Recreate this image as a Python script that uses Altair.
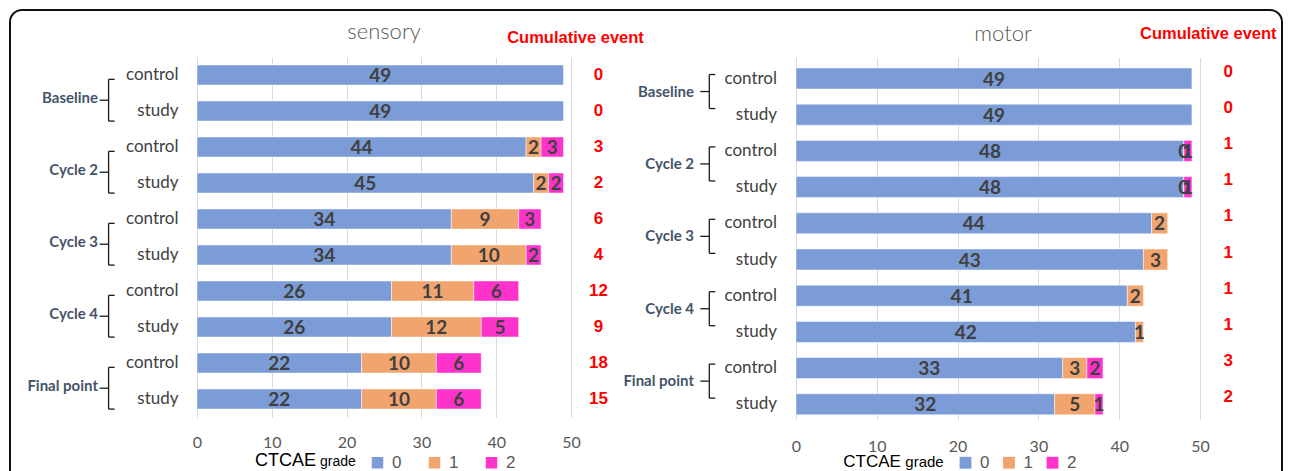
import altair as alt
import pandas as pd

# ---------------- data ----------------
groups = ["Baseline", "Cycle 2", "Cycle 3", "Cycle 4", "Final point"]
arms = ["control", "study"]
grades = [0, 1, 2]

sensory_g0 = [49, 49, 44, 45, 34, 34, 26, 26, 22, 22]
sensory_g1 = [None, None, 2, 2, 9, 10, 11, 12, 10, 10]
sensory_g2 = [None, None, 3, 2, 3, 2, 6, 5, 6, 6]
sensory_cum = [0, 0, 3, 2, 6, 4, 12, 9, 18, 15]

motor_g0 = [49, 49, 48, 48, 44, 43, 41, 42, 33, 32]
motor_g1 = [None, None, 0, 0, 2, 3, 2, 1, 3, 5]
motor_g2 = [None, None, 1, 1, None, None, None, None, 2, 1]
motor_cum = [0, 0, 1, 1, 1, 1, 1, 1, 3, 2]

x_ticks = [0, 10, 20, 30, 40, 50]
grade_colors = ["#7b9cd6", "#f2a46e", "#ff33cc"]
header_text = "Cumulative event"
legend_title = ["CTCAE", "grade"]


def bars_df(g0, g1, g2):
    rows = []
    for i in range(len(g0)):
        for grade, vals in zip(grades, (g0, g1, g2)):
            v = vals[i]
            if v is None:
                continue
            rows.append({"row": i, "grade": grade, "value": v})
    return pd.DataFrame(rows)


def one(text):
    return pd.DataFrame({"t": [text]})


def panel(title, g0, g1, g2, cum, lay, border=False):
    yscale = alt.Scale(domain=[-0.5, 9.5], range=lay["yrange"], nice=False,
                       zero=False, padding=0)
    xscale = alt.Scale(domain=[0, 50], nice=False, zero=True, padding=0)

    base = alt.Chart(bars_df(g0, g1, g2)).transform_stack(
        stack="value", groupby=["row"], as_=["x0", "x1"],
        sort=[alt.SortField("grade", order="ascending")],
    ).transform_calculate(mid="(datum.x0 + datum.x1) / 2")

    def Yq(field):
        return alt.Y(field, scale=yscale, title=None)

    bars = base.mark_bar(
        orient="horizontal", size=lay["bar"], stroke="white",
        strokeWidth=0.8, strokeOpacity=0.6,
    ).encode(
        x=alt.X("x0:Q", scale=xscale, title=None, axis=alt.Axis(
            values=x_ticks, domain=False, ticks=False, tickSize=0, grid=True,
            gridColor="#d9d9d9", gridWidth=1, labelFont="Lato", labelFontSize=16,
            labelColor="#595959", labelPadding=lay["xpad"], labelFlush=False)),
        x2="x1:Q",
        y=alt.Y("row:Q", scale=yscale, title=None, axis=alt.Axis(
            domain=False, ticks=False, labels=False, grid=False)),
        color=alt.Color("grade:N", scale=alt.Scale(domain=grades, range=grade_colors),
                        legend=alt.Legend(
                            orient="none", legendX=lay["legx"], legendY=lay["legy"],
                            direction="horizontal", title=None, symbolType="square",
                            symbolSize=lay["sym"], symbolStrokeWidth=0, padding=0,
                            labelFont="Liberation Sans", labelFontSize=17,
                            labelColor="#595959", labelOffset=6,
                            columnPadding=lay["colpad"])),
    )

    seg_labels = base.mark_text(
        font="Lato", fontWeight="bold", fontSize=19, color="#404040",
        baseline="middle", dy=1,
    ).encode(
        x=alt.X("mid:Q", scale=xscale, title=None),
        y=Yq("row:Q"),
        text="value:Q",
    )

    n = len(cum)
    row_df = pd.DataFrame({
        "row": list(range(n)),
        "cum": cum,
        "arm": [arms[i % 2] for i in range(n)],
    })
    rchart = alt.Chart(row_df)
    cum_text = rchart.mark_text(
        font="Liberation Sans", fontWeight="bold", fontSize=17, color="#ff0000",
        baseline="middle", dy=lay["cumdy"],
    ).encode(x=alt.value(lay["cumx"]), y=Yq("row:Q"), text="cum:Q")
    arm_text = rchart.mark_text(
        font="Lato", fontSize=17, color="#404040", align="right", baseline="middle",
    ).encode(x=alt.value(-lay["ypad"]), y=Yq("row:Q"), text="arm:N")

    gtop = [2 * k + lay["top_off"] for k in range(len(groups))]
    gbot = [2 * k + 1 + lay["bot_off"] for k in range(len(groups))]
    grp_df = pd.DataFrame({
        "group": groups, "top": gtop, "bottom": gbot,
        "mid": [(a + b) / 2 for a, b in zip(gtop, gbot)],
        "lab": [2 * k + 0.5 + lay["lab_off"] for k in range(len(groups))],
    })
    gchart = alt.Chart(grp_df)
    bx = lay["bx"]
    rule_style = dict(color="#1a1a1a", strokeWidth=1.3)
    brace_v = gchart.mark_rule(**rule_style).encode(
        x=alt.value(bx), y=Yq("top:Q"), y2="bottom:Q")
    brace_t = gchart.mark_rule(**rule_style).encode(
        x=alt.value(bx), x2=alt.value(bx + 6), y=Yq("top:Q"))
    brace_b = gchart.mark_rule(**rule_style).encode(
        x=alt.value(bx), x2=alt.value(bx + 6), y=Yq("bottom:Q"))
    brace_m = gchart.mark_rule(**rule_style).encode(
        x=alt.value(bx - 9), x2=alt.value(bx), y=Yq("mid:Q"))
    grp_text = gchart.mark_text(
        font="Lato", fontWeight="bold", fontSize=15, color="#44546a",
        align="right", baseline="middle",
    ).encode(x=alt.value(lay["gx"]), y=Yq("lab:Q"), text="group:N")

    title_text = alt.Chart(one(title)).mark_text(
        font="Lato", fontWeight=300, fontSize=22, color="#595959", baseline="middle",
    ).encode(x=alt.value(lay["tx"]), y=alt.value(lay["ty"]), text="t:N")

    head = alt.Chart(one(header_text)).mark_text(
        font="Liberation Sans", fontWeight="bold", fontSize=16.5, color="#ff0000",
        baseline="middle",
    ).encode(x=alt.value(lay["hx"]), y=alt.value(lay["hy"]), text="t:N")

    leg1 = alt.Chart(one(legend_title[0])).mark_text(
        font="Liberation Sans", fontSize=lay["lt1"], color="#000000",
        align="left", baseline="alphabetic",
    ).encode(x=alt.value(lay["l1x"]), y=alt.value(lay["lby"]), text="t:N")
    leg2 = alt.Chart(one(legend_title[1])).mark_text(
        font="Liberation Sans", fontSize=lay["lt2"], color="#000000",
        align="left", baseline="alphabetic",
    ).encode(x=alt.value(lay["l2x"]), y=alt.value(lay["lby"]), text="t:N")

    layers = [bars, seg_labels, cum_text, arm_text, brace_v, brace_t, brace_b, brace_m,
              grp_text, title_text, head, leg1, leg2]
    if border:
        frame = alt.Chart(one("")).mark_rect(
            fillOpacity=0, stroke="#111111", strokeWidth=2, cornerRadius=12,
        ).encode(x=alt.value(-187), x2=alt.value(1085),
                 y=alt.value(-47), y2=alt.value(440))
        layers = layers + [frame]
    return alt.layer(*layers).properties(width=lay["w"], height=lay["h"])


left_layout = dict(
    w=374, h=360, yrange=[0, 360], bar=20, xpad=17, ypad=18.5,
    legx=172, legy=397, sym=132, colpad=24,
    cumx=401.5, cumdy=0,
    top_off=0.12, bot_off=0.28, lab_off=0.15,
    bx=-88.4, gx=-99,
    tx=187, ty=-25, hx=378.5, hy=-19,
    lt1=18, lt2=14, l1x=58, l2x=123, lby=408.5,
)
right_layout = dict(
    w=404, h=366, yrange=[3.4, 365.4], bar=21, xpad=15, ypad=19,
    legx=161, legy=397, sym=140, colpad=10.5,
    cumx=432.3, cumdy=-7,
    top_off=-0.11, bot_off=-0.17, lab_off=-0.14,
    bx=-86.7, gx=-102,
    tx=207, ty=-23, hx=412.3, hy=-23,
    lt1=17, lt2=15, l1x=47.3, l2x=109.3, lby=410,
)

left = panel("sensory", sensory_g0, sensory_g1, sensory_g2, sensory_cum, left_layout, border=True)
right = panel("motor", motor_g0, motor_g1, motor_g2, motor_cum, right_layout)

chart = alt.hconcat(left, right, spacing=225, bounds="flush").resolve_scale(
    color="independent", x="independent", y="independent"
).resolve_legend(color="independent").properties(
    padding=1, background="white"
).configure_view(stroke=None)

chart.save("out.html", embed_options={"renderer": "svg", "actions": False})
